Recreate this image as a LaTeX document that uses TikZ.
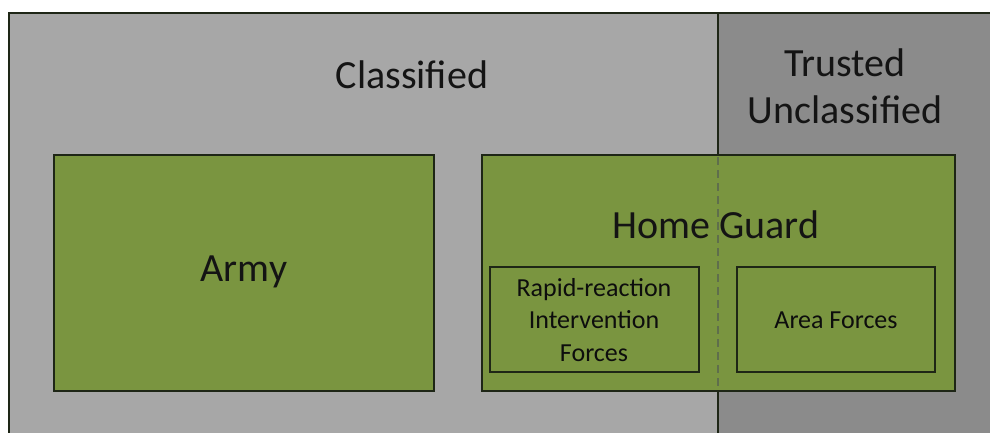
\documentclass[tikz,border=0pt]{standalone}
\usepackage{fontspec}
\setmainfont{Carlito}
\definecolor{lightgrey}{HTML}{A7A7A7}
\definecolor{darkgrey}{HTML}{8B8B8B}
\definecolor{olive}{HTML}{7A9540}
\definecolor{edge}{HTML}{1E2616}
\definecolor{dashcol}{HTML}{5F6E4C}
\begin{document}
\begin{tikzpicture}[x=1pt,y=-1pt,
  zone/.style={draw=edge,line width=1.4pt},
  unitbox/.style={draw=edge,fill=olive,line width=1.4pt},
  subbox/.style={draw=edge,line width=1.4pt},
  bigtext/.style={font=\fontsize{40}{47}\selectfont,text=black!92,align=center},
  smalltext/.style={font=\fontsize{26}{32.5}\selectfont,text=black!95,align=center}]
\useasboundingbox (0,0) rectangle (990,432);
\fill[white] (0,0) rectangle (990,432);
% zones
\fill[lightgrey] (9,13) rectangle (718,440);
\fill[darkgrey] (718,13) rectangle (1000,440);
\draw[zone] (1000,13) -- (9,13) -- (9,440);
\draw[zone] (718,13) -- (718,440);
\node[bigtext] (classified) at (412,75) {Classified};
\node[bigtext] (trusted) at (845,86) {Trusted\\Unclassified};
% army
\draw[unitbox] (54,155) rectangle (434,391);
\node[bigtext] (army) at (244,272) {Army};
% home guard
\draw[unitbox] (482,155) rectangle (955,391);
\draw[dashcol,line width=1.5pt,dash pattern=on 8pt off 5pt] (718,157) -- (718,389);
\node[bigtext] (homeguard) at (716,225) {Home Guard};
\draw[subbox] (490,267) rectangle (699,372);
\node[smalltext] (rapid) at (594,320) {Rapid-reaction\\Intervention\\Forces};
\draw[subbox] (737,267) rectangle (935,372);
\node[smalltext] (area) at (836,320) {Area Forces};
\end{tikzpicture}
\end{document}
